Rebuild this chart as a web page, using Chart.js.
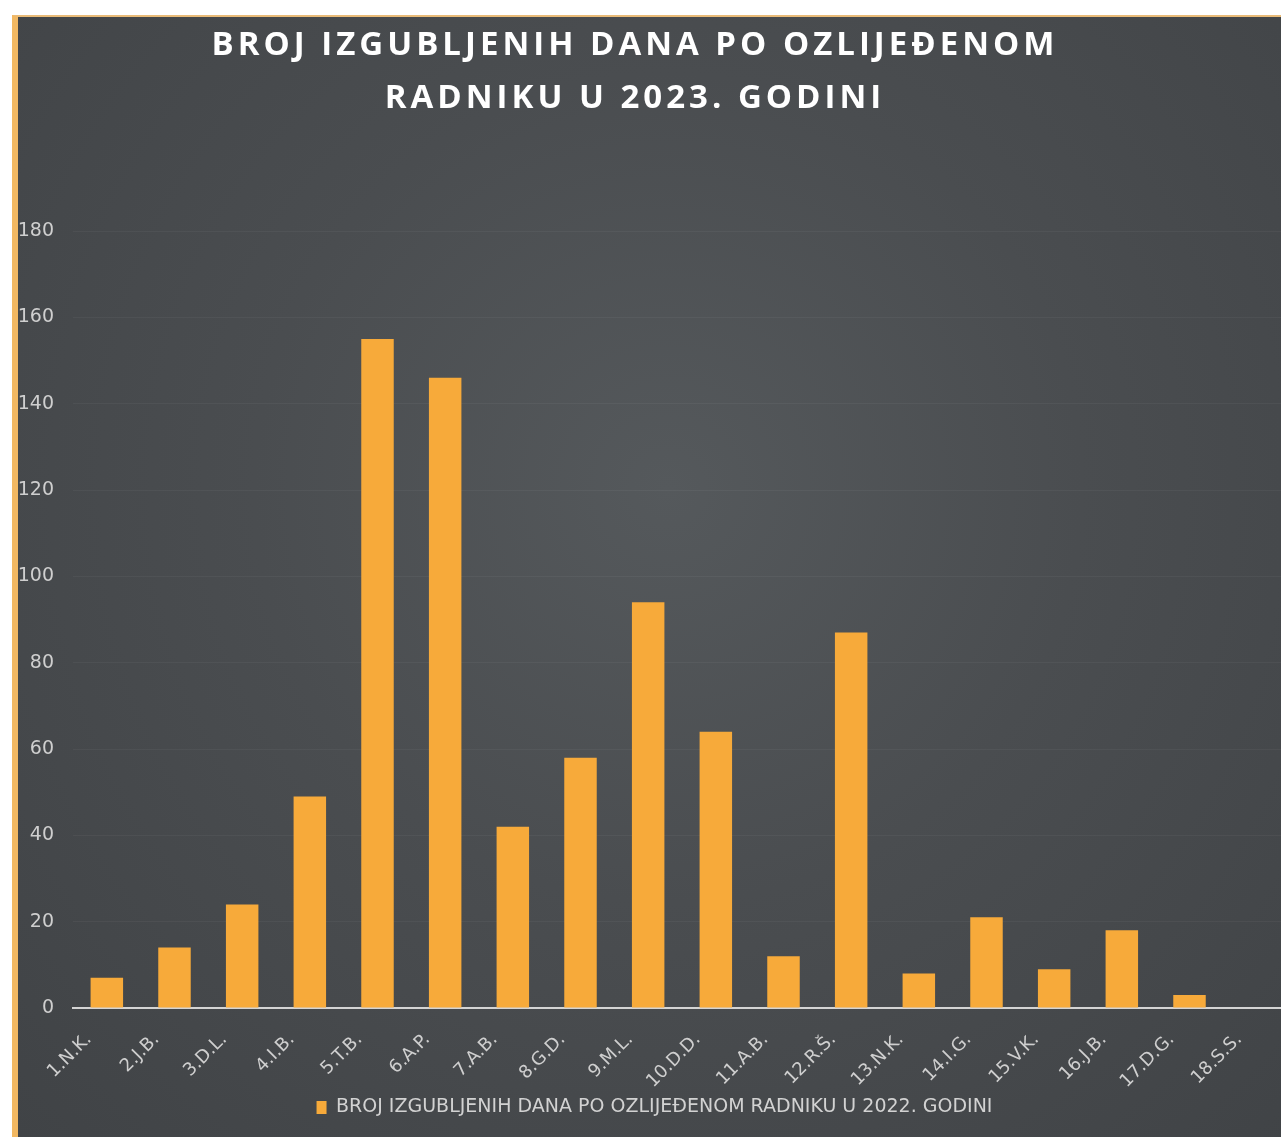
<!DOCTYPE html>
<html>
<head>
<meta charset="utf-8">
<script src="https://cdn.jsdelivr.net/npm/chart.js@4"></script>
<style>
  html, body { margin: 0; padding: 0; background: #fff; overflow: hidden; }
  body { width: 1281px; height: 1137px; position: relative; }
  .panel {
    position: absolute; left: 12px; top: 15px;
    width: 1300px; height: 1122px;
    border-left: 6px solid #f2b862;
    border-top: 2px solid #e9bb78;
    background: radial-gradient(ellipse at 50% 42%, #55595c 0%, #4a4d50 45%, #404346 100%);
  }
  .wrap { position: absolute; left: 0; top: 0; width: 1290px; height: 1120px; }
</style>
</head>
<body>
<div class="panel">
  <div class="wrap"><canvas id="chart"></canvas></div>
</div>
<script>
// podaci procitani sa slike
const titleLines = ['BROJ IZGUBLJENIH DANA PO OZLIJEĐENOM', 'RADNIKU U 2023. GODINI']
const seriesName = 'BROJ IZGUBLJENIH DANA PO OZLIJEĐENOM RADNIKU U 2022. GODINI'
const workers = ['1.N.K.', '2.J.B.', '3.D.L.', '4.I.B.', '5.T.B.', '6.A.P.', '7.A.B.', '8.G.D.', '9.M.L.',
  '10.D.D.', '11.A.B.', '12.R.Š.', '13.N.K.', '14.I.G.', '15.V.K.', '16.J.B.', '17.D.G.', '18.S.S.']
const lostDays = [7, 14, 24, 49, 155, 146, 42, 58, 94, 64, 12, 87, 8, 21, 9, 18, 3, 0]
const yMin = 0
const yMax = 180
const yStep = 20

// naslov crtamo sami da bude centriran kao na originalu
const panelTitle = {
  id: 'panelTitle',
  afterDraw(chart) {
    const ctx = chart.ctx
    ctx.save()
    ctx.fillStyle = '#ffffff'
    ctx.font = 'bold 33px "Open Sans"'
    ctx.textAlign = 'center'
    ctx.textBaseline = 'middle'
    if ('letterSpacing' in ctx) ctx.letterSpacing = '4px'
    ctx.fillText(titleLines[0], 617, 29)
    ctx.fillText(titleLines[1], 617, 82)
    ctx.restore()
  }
}

const ctx = document.getElementById('chart').getContext('2d')

new Chart(ctx, {
  type: 'bar',
  data: {
    labels: workers,
    datasets: [{
      label: seriesName,
      data: lostDays,
      backgroundColor: '#f7aa3a',
      borderWidth: 0,
      barPercentage: 0.48,
      categoryPercentage: 1
    }]
  },
  options: {
    responsive: true,
    maintainAspectRatio: false,
    animation: false,
    layout: {
      padding: { top: 214, right: 17, left: 0, bottom: 10 }
    },
    plugins: {
      title: { display: false },
      tooltip: { enabled: false },
      legend: {
        position: 'bottom',
        labels: {
          color: '#d2d2d2',
          font: { family: 'DejaVu Sans', size: 19 },
          boxWidth: 10,
          boxHeight: 13,
          padding: 8
        }
      }
    },
    scales: {
      x: {
        grid: { display: false },
        border: { display: true, color: '#d4d4d4', width: 2 },
        ticks: {
          color: '#cfcfcf',
          font: { family: 'DejaVu Sans', size: 18 },
          minRotation: 45,
          maxRotation: 45,
          autoSkip: false,
          padding: 13,
          labelOffset: -18
        },
        afterFit(scale) { scale.height = 82 }
      },
      y: {
        min: yMin,
        max: yMax,
        grid: { color: 'rgba(255,255,255,0.045)', drawTicks: false },
        border: { display: false },
        ticks: {
          stepSize: yStep,
          color: '#cfcfcf',
          font: { family: 'DejaVu Sans', size: 19 },
          crossAlign: 'near',
          padding: 19
        },
        afterFit(scale) { scale.width = 55 }
      }
    }
  },
  plugins: [panelTitle]
})
</script>
</body>
</html>
